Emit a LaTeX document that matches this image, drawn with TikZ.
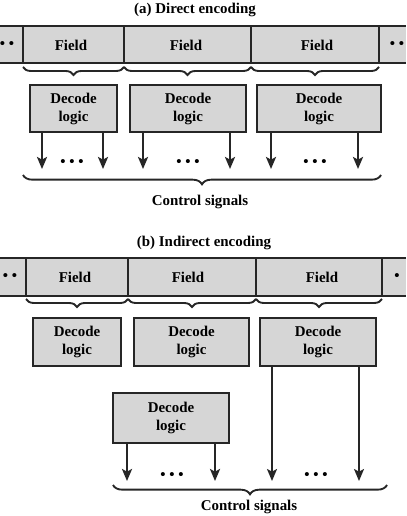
\documentclass[tikz,border=0pt]{standalone}
\usepackage{fontspec}
\setmainfont{Liberation Serif}
\usetikzlibrary{arrows.meta,decorations.pathreplacing}
\begin{document}
\begin{tikzpicture}[x=0.75pt, y=-0.75pt, >={Stealth[length=9pt,width=7.5pt,inset=2pt]},
    lbl/.style={font=\fontsize{11.2}{13.5}\selectfont\bfseries, inner sep=0pt, align=center},
    dbox/.style={lbl, draw=black!85, fill=black!16, line width=1.8pt, minimum height=\px*47},
    bar/.style={draw=black!85, line width=1.8pt},
    brc/.style={draw=black!85, line width=1.4pt, decorate, decoration={brace, mirror, amplitude=#1}},
    sig/.style={->, draw=black!85, line width=1.8pt}]
    \def\px{0.75pt}
    \useasboundingbox (0,0) rectangle (406,516);
    \node[lbl] (ta) at (195,10) {(a) Direct encoding};
    \fill[black!16] (0,26) rectangle (406,63);
    \draw[bar] (0,26) -- (406,26) (0,63) -- (406,63);
    \foreach \x in {23,124,251,379}
        \draw[bar] (\x,26) -- (\x,63);
    \node[lbl] (fa1) at (71,45) {Field};
    \node[lbl] (fa2) at (186,45) {Field};
    \node[lbl] (fa3) at (317,45) {Field};
    \node[lbl] (pa1) at (7,45) {• •};
    \node[lbl] (pa2) at (397,45) {• •};
    \draw[brc=6pt] (23,67) -- (124,67);
    \draw[brc=6pt] (124,67) -- (251,67);
    \draw[brc=6pt] (251,67) -- (379,67);
    \node[dbox, minimum width=\px*87] (da1) at (73.5,108.5) {Decode\\logic};
    \node[dbox, minimum width=\px*116] (da2) at (188,108.5) {Decode\\logic};
    \node[dbox, minimum width=\px*124] (da3) at (319,108.5) {Decode\\logic};
    \coordinate (ea1) at (42,169);
    \coordinate (ea2) at (103,169);
    \coordinate (ea3) at (143,169);
    \coordinate (ea4) at (230,169);
    \coordinate (ea5) at (271,169);
    \coordinate (ea6) at (358,169);
    \draw[sig] (da1.south -| ea1) -- (ea1);
    \draw[sig] (da1.south -| ea2) -- (ea2);
    \draw[sig] (da2.south -| ea3) -- (ea3);
    \draw[sig] (da2.south -| ea4) -- (ea4);
    \draw[sig] (da3.south -| ea5) -- (ea5);
    \draw[sig] (da3.south -| ea6) -- (ea6);
    \node[lbl] (ma1) at (72,163) {• • •};
    \node[lbl] (ma2) at (188,163) {• • •};
    \node[lbl] (ma3) at (315,163) {• • •};
    \draw[brc=7pt] (23,175) -- (381,175);
    \node[lbl] (ca) at (200,202) {Control signals};
    \node[lbl] (tb) at (204,243) {(b) Indirect encoding};
    \fill[black!16] (0,258) rectangle (406,296);
    \draw[bar] (0,258) -- (406,258) (0,296) -- (406,296);
    \foreach \x in {26,128,256,382}
        \draw[bar] (\x,258) -- (\x,296);
    \node[lbl] (fb1) at (75,277) {Field};
    \node[lbl] (fb2) at (188,277) {Field};
    \node[lbl] (fb3) at (322,277) {Field};
    \node[lbl] (pb1) at (10,277) {• •};
    \node[lbl] (pb2) at (397,277) {•};
    \draw[brc=6pt] (26,299) -- (128,299);
    \draw[brc=6pt] (128,299) -- (256,299);
    \draw[brc=6pt] (256,299) -- (382,299);
    \node[dbox, minimum width=\px*88, minimum height=\px*48] (db1) at (77,342) {Decode\\logic};
    \node[dbox, minimum width=\px*115, minimum height=\px*48] (db2) at (191.5,342) {Decode\\logic};
    \node[dbox, minimum width=\px*116, minimum height=\px*48] (db3) at (318,342) {Decode\\logic};
    \node[dbox, minimum width=\px*116, minimum height=\px*50] (db4) at (171,418) {Decode\\logic};
    \coordinate (eb1) at (127,481);
    \coordinate (eb2) at (215,481);
    \coordinate (eb3) at (272,481);
    \coordinate (eb4) at (359,481);
    \draw[sig] (db4.south -| eb1) -- (eb1);
    \draw[sig] (db4.south -| eb2) -- (eb2);
    \draw[sig, line width=1.2pt] (db3.south -| eb3) -- (eb3);
    \draw[sig, line width=1.2pt] (db3.south -| eb4) -- (eb4);
    \node[lbl] (mb1) at (172,476) {• • •};
    \node[lbl] (mb2) at (316,476) {• • •};
    \draw[brc=7pt] (113,485) -- (387,485);
    \node[lbl] (cb) at (249,507) {Control signals};
\end{tikzpicture}
\end{document}
